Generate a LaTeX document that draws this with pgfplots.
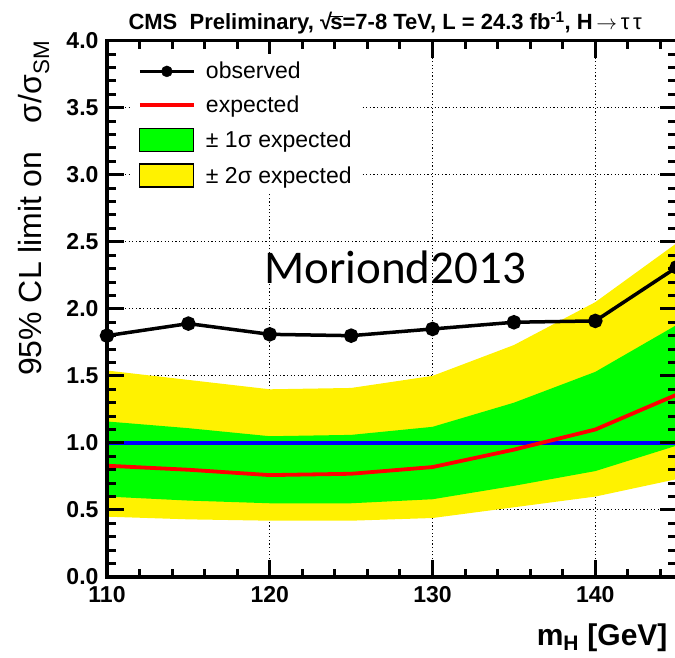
\documentclass[border=0pt]{standalone}
\usepackage{pgfplots}
\pgfplotsset{compat=1.18}
\usepackage{fontspec}
\setmainfont{Liberation Sans}
\newfontfamily\calibri{Carlito}

\begin{document}
\begin{tikzpicture}[x=1pt,y=1pt]
\begin{axis}[
  at={(107pt,80pt)}, anchor=south west,
  scale only axis, width=569.7pt, height=536.3pt,
  xmin=110, xmax=145, ymin=0, ymax=4,
  axis on top,
  clip mode=individual,
  axis line style={line width=3.5pt},
  xtick={110,120,130,140}, xticklabels={110,120,130,140},
  minor xtick={112,114,116,118,122,124,126,128,132,134,136,138,142,144},
  ytick={0,0.5,1,1.5,2,2.5,3,3.5,4},
  yticklabels={0.0,0.5,1.0,1.5,2.0,2.5,3.0,3.5,4.0},
  minor y tick num=4,
  tick align=inside,
  major tick style={line width=3pt, black},
  minor tick style={line width=3pt, black},
  major tick length=17pt, minor tick length=8.5pt,
  tick label style={font=\fontsize{23}{23}\selectfont\bfseries},
  xticklabel style={yshift=-6pt},
  yticklabel style={xshift=-5pt},
  legend style={at={(rel axis cs:0.04,0.975)}, anchor=north west, draw=none, fill=white,
    font=\fontsize{23}{23}\selectfont, row sep=11.5pt, inner xsep=8pt, inner ysep=6pt},
  legend cell align=left,
]
% grid lines (below the bands)
\draw[black, line width=1pt, dash pattern=on 1.2pt off 2.4pt] (120,0) -- (120,4);
\draw[black, line width=1pt, dash pattern=on 1.2pt off 2.4pt] (130,0) -- (130,4);
\draw[black, line width=1pt, dash pattern=on 1.2pt off 2.4pt] (140,0) -- (140,4);
\draw[black, line width=1pt, dash pattern=on 1.2pt off 2.4pt] (110,0.5) -- (145,0.5);
\draw[black, line width=1pt, dash pattern=on 1.2pt off 2.4pt] (110,1.5) -- (145,1.5);
\draw[black, line width=1pt, dash pattern=on 1.2pt off 2.4pt] (110,2.0) -- (145,2.0);
\draw[black, line width=1pt, dash pattern=on 1.2pt off 2.4pt] (110,2.5) -- (145,2.5);
\draw[black, line width=1pt, dash pattern=on 1.2pt off 2.4pt] (110,3.0) -- (145,3.0);
\draw[black, line width=1pt, dash pattern=on 1.2pt off 2.4pt] (110,3.5) -- (145,3.5);

% +-2 sigma band
\addplot[fill=yellow, draw=none, forget plot] coordinates {
 (110,1.54) (115,1.47) (120,1.40) (125,1.41) (130,1.50) (135,1.73) (140,2.05) (145,2.49)
 (145,0.73) (140,0.60) (135,0.52) (130,0.44) (125,0.42) (120,0.42) (115,0.43) (110,0.45)} -- cycle;
% +-1 sigma band
\addplot[fill=green, draw=none, forget plot] coordinates {
 (110,1.16) (115,1.11) (120,1.05) (125,1.06) (130,1.12) (135,1.30) (140,1.53) (145,1.88)
 (145,0.98) (140,0.79) (135,0.68) (130,0.58) (125,0.55) (120,0.55) (115,0.57) (110,0.60)} -- cycle;
% SM line
\addplot[blue, line width=3.2pt, forget plot] coordinates {(110,1) (145,1)};
% expected
\addplot[red, line width=3.8pt, forget plot] coordinates {
 (110,0.83) (115,0.80) (120,0.76) (125,0.77) (130,0.82) (135,0.95) (140,1.10) (145,1.36)};
% observed
\addplot[black, line width=3.5pt, mark=*, mark size=5.5pt, forget plot] coordinates {
 (110,1.80) (115,1.89) (120,1.81) (125,1.80) (130,1.85) (135,1.90) (140,1.91) (145,2.31)};

\addlegendimage{legend image code/.code={\path[draw=none,fill=none] (64pt,0pt) circle (0.1pt); \draw[black,line width=3.5pt] (0pt,0pt) -- (54pt,0pt); \fill[black] (27pt,0pt) circle (5.5pt);}}
\addlegendentry{observed}
\addlegendimage{legend image code/.code={\path[draw=none,fill=none] (64pt,0pt) circle (0.1pt); \draw[red,line width=3.8pt] (0pt,0pt) -- (54pt,0pt);}}
\addlegendentry{expected}
\addlegendimage{legend image code/.code={\path[draw=none,fill=none] (64pt,0pt) circle (0.1pt); \draw[black,line width=1.2pt,fill=green] (0pt,-11.5pt) rectangle (54pt,11.5pt);}}
\addlegendentry{± 1σ expected}
\addlegendimage{legend image code/.code={\path[draw=none,fill=none] (64pt,0pt) circle (0.1pt); \draw[black,line width=1.2pt,fill=yellow] (0pt,-11.5pt) rectangle (54pt,11.5pt);}}
\addlegendentry{± 2σ expected}

\node[font=\calibri\fontsize{47}{47}\selectfont, anchor=base] at (127.7,2.19) {Moriond2013};
\end{axis}

\node[anchor=base west, font=\fontsize{22}{22}\selectfont\bfseries] at (125,627)
  {CMS\ \ Preliminary, √\kern-0.08em\vbox{\hrule height 1.3pt\kern 1.2pt\hbox{s}}=7-8 TeV, L = 24.3 fb\textsuperscript{-1}, H\,$\rightarrow$\,{\mdseries τ\,τ}};
\node[anchor=base east, font=\fontsize{30}{30}\selectfont\bfseries] at (671,12) {m\textsubscript{H} [GeV]};
\node[rotate=90, anchor=base east, font=\fontsize{32}{32}\selectfont] at (42,620) {95\% CL limit on\hspace{0.9em}σ/σ\textsubscript{SM}};

\pgfresetboundingbox
\path[use as bounding box] (0,0) rectangle (675,657);
\end{tikzpicture}
\end{document}
